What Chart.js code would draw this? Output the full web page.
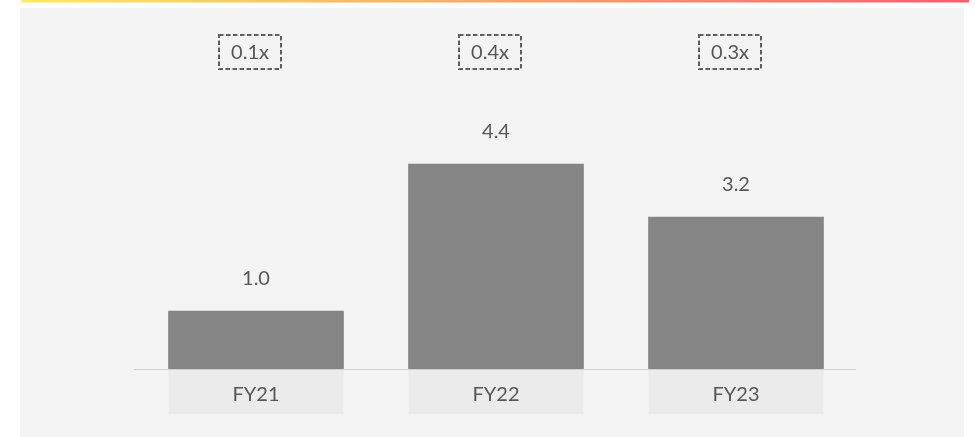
<!DOCTYPE html>
<html>
<head>
<meta charset="utf-8">
<script src="https://cdn.jsdelivr.net/npm/chart.js@4"></script>
<style>
  html, body { margin: 0; padding: 0; background: #ffffff; }
  #wrap { width: 975px; height: 437px; position: relative; }
</style>
</head>
<body>
<div id="wrap"><canvas id="myChart" width="975" height="437"></canvas></div>
<script>
const categories = ['FY21', 'FY22', 'FY23'];
const values = [1.23, 4.36, 3.23];
const valueLabels = ['1.0', '4.4', '3.2'];
const multiples = ['0.1x', '0.4x', '0.3x'];

const FONT = 'Lato, "Open Sans", sans-serif';
const TEXT = '#575757';

// fondo, barra colorata, linea base, etichette
const decorations = {
    id: 'decorations',
    beforeDraw(chart) {
        const ctx = chart.ctx;
        const area = chart.chartArea;
        ctx.save();
        ctx.fillStyle = '#f4f4f4';
        ctx.fillRect(20, 8, 944, 429);
        const g = ctx.createLinearGradient(21, 0, 969, 0);
        g.addColorStop(0, '#ffeb5c');
        g.addColorStop(0.5, '#ffa564');
        g.addColorStop(1, '#ff5c72');
        ctx.fillStyle = g;
        ctx.fillRect(21, 0, 948, 2.5);

        const meta = chart.getDatasetMeta(0);
        ctx.font = '20px ' + FONT;
        ctx.textAlign = 'center';
        ctx.textBaseline = 'middle';
        meta.data.forEach((bar, i) => {
            ctx.fillStyle = '#ebebeb';
            ctx.fillRect(bar.x - bar.width / 2, area.bottom, bar.width, 45);
            ctx.fillStyle = TEXT;
            ctx.fillText(categories[i], bar.x, area.bottom + 26);
        });
        ctx.restore();
    },
    afterDraw(chart) {
        const ctx = chart.ctx;
        const area = chart.chartArea;
        const meta = chart.getDatasetMeta(0);
        ctx.save();
        ctx.strokeStyle = '#d0d0d0';
        ctx.lineWidth = 1;
        ctx.beginPath();
        ctx.moveTo(area.left - 2, area.bottom + 0.5);
        ctx.lineTo(area.right, area.bottom + 0.5);
        ctx.stroke();

        ctx.font = '20px ' + FONT;
        ctx.textAlign = 'center';
        ctx.textBaseline = 'middle';
        meta.data.forEach((bar, i) => {
            ctx.fillStyle = TEXT;
            ctx.fillText(valueLabels[i], bar.x, bar.y - 33);

            const cx = bar.x - 6;
            const cy = 52;
            ctx.setLineDash([4.5, 2.5]);
            ctx.lineWidth = 2;
            ctx.strokeStyle = '#5e5e5e';
            ctx.strokeRect(cx - 31, cy - 17, 62, 34);
            ctx.setLineDash([]);
            ctx.fillText(multiples[i], cx, cy + 1);
        });
        ctx.restore();
    }
};

new Chart(document.getElementById('myChart'), {
    type: 'bar',
    data: {
        labels: categories,
        datasets: [{
            data: values,
            backgroundColor: '#858585',
            borderWidth: 0,
            barThickness: 175
        }]
    },
    options: {
        responsive: false,
        animation: false,
        layout: { padding: { left: 136, right: 119, top: 87, bottom: 68 } },
        plugins: {
            legend: { display: false },
            tooltip: { enabled: false }
        },
        scales: {
            x: { display: false },
            y: { display: false, min: 0, max: 6 }
        }
    },
    plugins: [decorations]
});
</script>
</body>
</html>
